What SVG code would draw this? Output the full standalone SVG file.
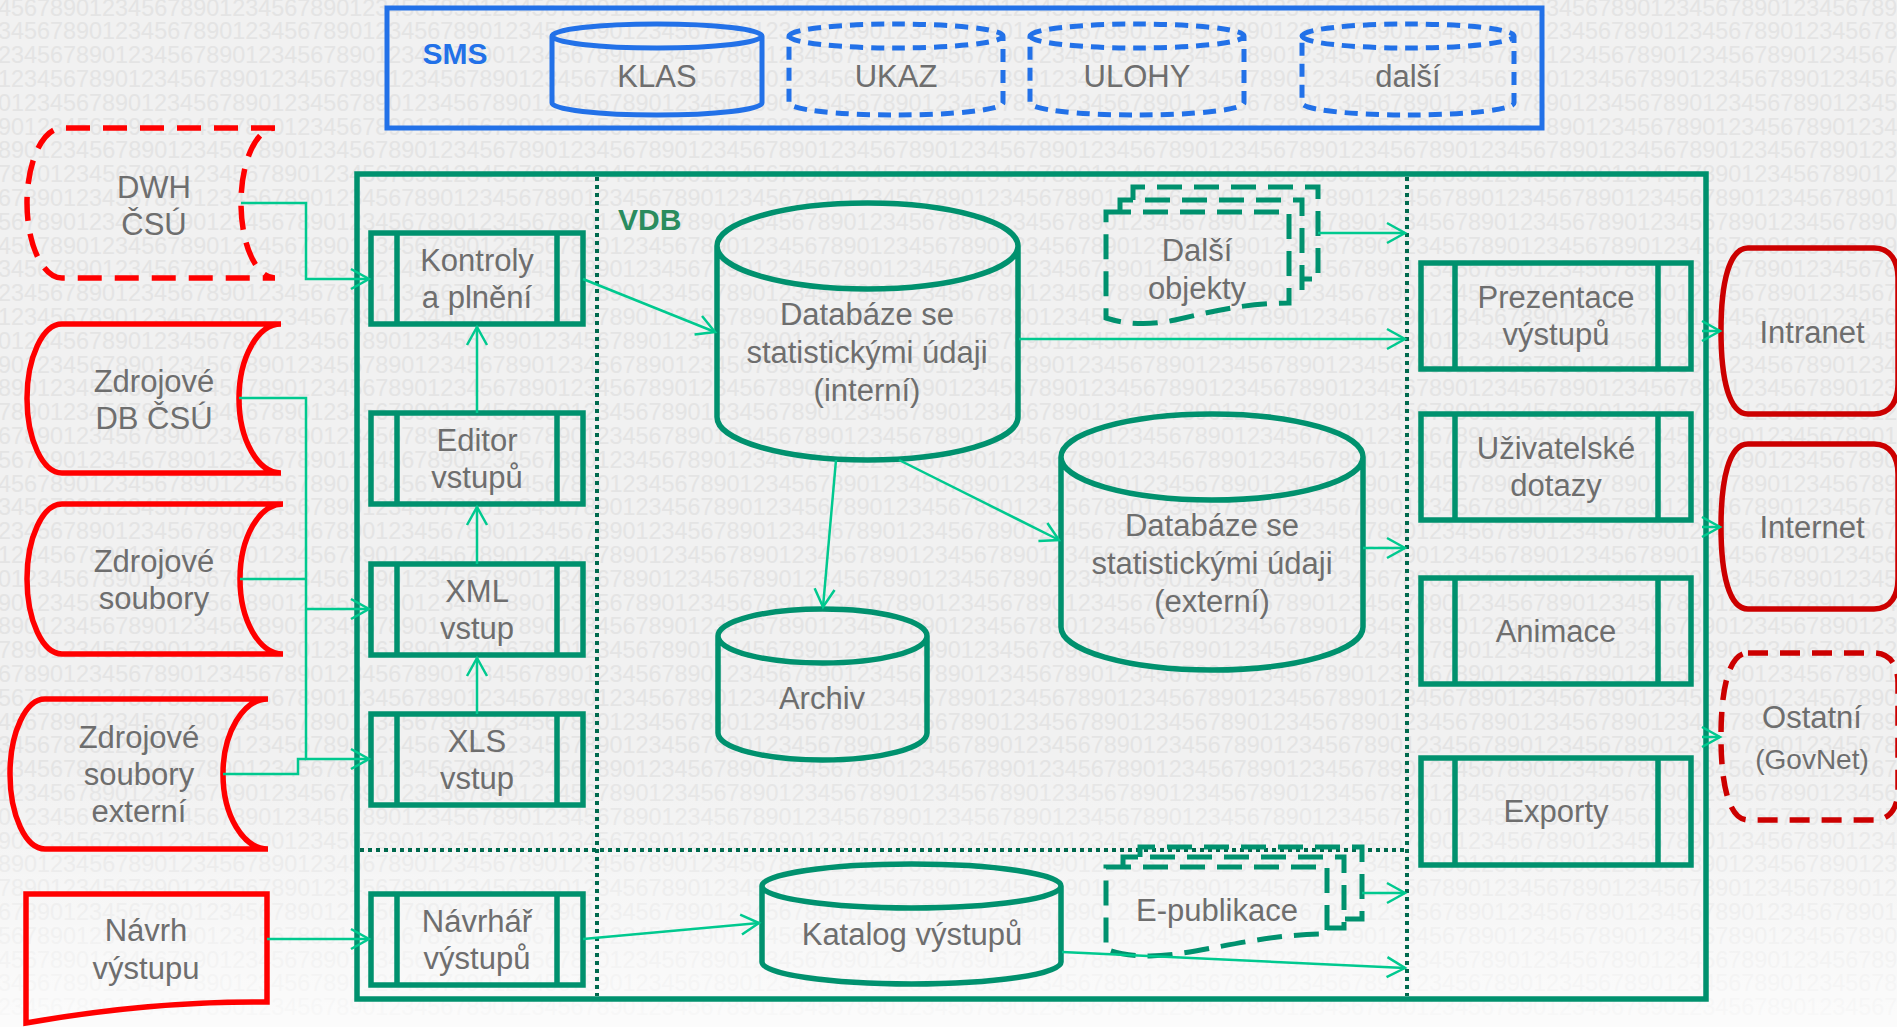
<svg xmlns="http://www.w3.org/2000/svg" xmlns:xlink="http://www.w3.org/1999/xlink" width="1897" height="1027" viewBox="0 0 1897 1027">
<defs>
<style>
.t{font-family:"Liberation Sans",Arial,sans-serif;font-size:31px;fill:#6e6e6e;text-anchor:middle}
.bg{font-family:"Liberation Sans",Arial,sans-serif;font-size:23.4px;fill:#e4e4e4}
.g{fill:none;stroke:#00916e;stroke-width:5.5}
.gd{fill:none;stroke:#00916e;stroke-width:5;stroke-dasharray:25 12}
.b{fill:none;stroke:#2271e8;stroke-width:5}
.bd{fill:none;stroke:#2271e8;stroke-width:5;stroke-dasharray:13 8}
.r{fill:none;stroke:#ff0000;stroke-width:5.5}
.rd{fill:none;stroke:#ff0000;stroke-width:5.5;stroke-dasharray:24 13}
.dr{fill:none;stroke:#cc0000;stroke-width:5.5}
.drd{fill:none;stroke:#cc0000;stroke-width:5.5;stroke-dasharray:20 12}
.dot{fill:none;stroke:#006a4e;stroke-width:4;stroke-dasharray:4 4}
.c{fill:none;stroke:#00c98f;stroke-width:2.5}
.ca{fill:none;stroke:#00c98f;stroke-width:2.5;marker-end:url(#ah)}
</style>
<marker id="ah" markerUnits="userSpaceOnUse" markerWidth="24" markerHeight="24" viewBox="0 0 24 24" refX="20" refY="12" orient="auto"><path d="M2,2 L20,12 L2,22" fill="none" stroke="#00c98f" stroke-width="2.5"/></marker>
<text id="dg" class="bg">0123456789012345678901234567890123456789012345678901234567890123456789012345678901234567890123456789012345678901234567890123456789012345678901234567890123456789</text>
<linearGradient id="fade" x1="0" y1="0" x2="0" y2="1"><stop offset="0" stop-color="#ffffff" stop-opacity="0"/><stop offset="1" stop-color="#ffffff" stop-opacity="0.75"/></linearGradient>
</defs>

<g id="background">
<rect x="0" y="0" width="1897" height="1027" fill="#f1f1f1"/>
<use href="#dg" x="-54" y="15.5"/><use href="#dg" x="-41" y="39.3"/><use href="#dg" x="-28" y="63.1"/><use href="#dg" x="-15" y="86.9"/><use href="#dg" x="-2" y="110.7"/>
<use href="#dg" x="-119" y="134.5"/><use href="#dg" x="-106" y="158.3"/><use href="#dg" x="-93" y="182.1"/><use href="#dg" x="-80" y="205.9"/><use href="#dg" x="-67" y="229.7"/>
<use href="#dg" x="-54" y="253.5"/><use href="#dg" x="-41" y="277.3"/><use href="#dg" x="-28" y="301.1"/><use href="#dg" x="-15" y="324.9"/><use href="#dg" x="-2" y="348.7"/>
<use href="#dg" x="-119" y="372.5"/><use href="#dg" x="-106" y="396.3"/><use href="#dg" x="-93" y="420.1"/><use href="#dg" x="-80" y="443.9"/><use href="#dg" x="-67" y="467.7"/>
<use href="#dg" x="-54" y="491.5"/><use href="#dg" x="-41" y="515.3"/><use href="#dg" x="-28" y="539.1"/><use href="#dg" x="-15" y="562.9"/><use href="#dg" x="-2" y="586.7"/>
<use href="#dg" x="-119" y="610.5"/><use href="#dg" x="-106" y="634.3"/><use href="#dg" x="-93" y="658.1"/><use href="#dg" x="-80" y="681.9"/><use href="#dg" x="-67" y="705.7"/>
<use href="#dg" x="-54" y="729.5"/><use href="#dg" x="-41" y="753.3"/><use href="#dg" x="-28" y="777.1"/><use href="#dg" x="-15" y="800.9"/><use href="#dg" x="-2" y="824.7"/>
<use href="#dg" x="-119" y="848.5"/><use href="#dg" x="-106" y="872.3"/><use href="#dg" x="-93" y="896.1"/><use href="#dg" x="-80" y="919.9"/><use href="#dg" x="-67" y="943.7"/>
<use href="#dg" x="-54" y="967.5"/><use href="#dg" x="-41" y="991.3"/><use href="#dg" x="-28" y="1015.1"/>
<rect x="0" y="760" width="1897" height="267" fill="url(#fade)"/>
</g>

<g id="sms">
<rect x="387" y="8" width="1155" height="120" class="b"/>
<text x="455" y="64" style="font-family:'Liberation Sans',Arial,sans-serif;font-size:30px;font-weight:bold;fill:#2271e8;text-anchor:middle">SMS</text>
</g>
<g id="klas">
<path class="b" d="M552,36 A105,12 0 0 1 762,36 V103 A105,12 0 0 1 552,103 Z M552,36 A105,12 0 0 0 762,36"/>
<text class="t" x="657" y="87">KLAS</text>
</g>
<g id="ukaz">
<path class="bd" d="M789,36 A107,12 0 0 1 1003,36 V103 A107,12 0 0 1 789,103 Z M789,36 A107,12 0 0 0 1003,36"/>
<text class="t" x="896" y="87">UKAZ</text>
</g>
<g id="ulohy">
<path class="bd" d="M1030,36 A107,12 0 0 1 1244,36 V103 A107,12 0 0 1 1030,103 Z M1030,36 A107,12 0 0 0 1244,36"/>
<text class="t" x="1137" y="87">ULOHY</text>
</g>
<g id="dalsi">
<path class="bd" d="M1302,36 A106,12 0 0 1 1514,36 V103 A106,12 0 0 1 1302,103 Z M1302,36 A106,12 0 0 0 1514,36"/>
<text class="t" x="1408" y="87">další</text>
</g>

<g id="vdb">
<rect x="357" y="174" width="1349" height="825" class="g"/>
<line x1="597" y1="177" x2="597" y2="996" class="dot"/>
<line x1="1407" y1="177" x2="1407" y2="996" class="dot"/>
<line x1="360" y1="850" x2="1407" y2="850" class="dot"/>
<text x="618" y="230" style="font-family:'Liberation Sans',Arial,sans-serif;font-size:30px;font-weight:bold;fill:#2a8c5e">VDB</text>
</g>

<g id="dwh">
<path class="rd" d="M275,128 H62 A35,75 0 0 0 62,278 H275 A34,75 0 0 1 275,128 Z"/>
<text class="t" x="154" y="198">DWH</text>
<text class="t" x="154" y="235">ČSÚ</text>
</g>
<g id="zdroj-db">
<path class="r" d="M281,324 H62 A35,74.5 0 0 0 62,473 H281 A42,74.5 0 0 1 281,324 Z"/>
<text class="t" x="154" y="392">Zdrojové</text>
<text class="t" x="154" y="429">DB ČSÚ</text>
</g>
<g id="zdroj-soubory">
<path class="r" d="M283,504 H62 A35,75 0 0 0 62,654 H283 A43,75 0 0 1 283,504 Z"/>
<text class="t" x="154" y="572">Zdrojové</text>
<text class="t" x="154" y="609">soubory</text>
</g>
<g id="zdroj-ext">
<path class="r" d="M268,699 H45 A35,75 0 0 0 45,849 H268 A45,75 0 0 1 268,699 Z"/>
<text class="t" x="139" y="748">Zdrojové</text>
<text class="t" x="139" y="785">soubory</text>
<text class="t" x="139" y="822">externí</text>
</g>
<g id="navrh">
<path class="r" d="M26,894 H267 V1002 C185,1001 105,1009 26,1023 Z"/>
<text class="t" x="146" y="941">Návrh</text>
<text class="t" x="146" y="979">výstupu</text>
</g>

<g id="kontroly">
<rect x="371" y="233" width="212" height="91" class="g"/><path class="g" d="M397,233 V324 M557,233 V324"/>
<text class="t" x="477" y="271">Kontroly</text>
<text class="t" x="477" y="308">a plnění</text>
</g>
<g id="editor">
<rect x="371" y="413" width="212" height="91" class="g"/><path class="g" d="M397,413 V504 M557,413 V504"/>
<text class="t" x="477" y="451">Editor</text>
<text class="t" x="477" y="488">vstupů</text>
</g>
<g id="xml">
<rect x="371" y="564" width="212" height="91" class="g"/><path class="g" d="M397,564 V655 M557,564 V655"/>
<text class="t" x="477" y="602">XML</text>
<text class="t" x="477" y="639">vstup</text>
</g>
<g id="xls">
<rect x="371" y="714" width="212" height="91" class="g"/><path class="g" d="M397,714 V805 M557,714 V805"/>
<text class="t" x="477" y="752">XLS</text>
<text class="t" x="477" y="789">vstup</text>
</g>
<g id="navrhar">
<rect x="371" y="894" width="212" height="91" class="g"/><path class="g" d="M397,894 V985 M557,894 V985"/>
<text class="t" x="477" y="932">Návrhář</text>
<text class="t" x="477" y="969">výstupů</text>
</g>

<g id="db-interni">
<path class="g" d="M717,246 A150.5,43 0 0 1 1018,246 V417 A150.5,43 0 0 1 717,417 Z M717,246 A150.5,43 0 0 0 1018,246"/>
<text class="t" x="867" y="325">Databáze se</text>
<text class="t" x="867" y="363">statistickými údaji</text>
<text class="t" x="867" y="401">(interní)</text>
</g>
<g id="db-externi">
<path class="g" d="M1061,457 A151,43 0 0 1 1363,457 V627 A151,43 0 0 1 1061,627 Z M1061,457 A151,43 0 0 0 1363,457"/>
<text class="t" x="1212" y="536">Databáze se</text>
<text class="t" x="1212" y="574">statistickými údaji</text>
<text class="t" x="1212" y="612">(externí)</text>
</g>
<g id="archiv">
<path class="g" d="M718,636 A104.5,27 0 0 1 927,636 V733 A104.5,27 0 0 1 718,733 Z M718,636 A104.5,27 0 0 0 927,636"/>
<text class="t" x="822" y="709">Archiv</text>
</g>
<g id="katalog">
<path class="g" d="M762,886 A149.5,22 0 0 1 1061,886 V962 A149.5,22 0 0 1 762,962 Z M762,886 A149.5,22 0 0 0 1061,886"/>
<text class="t" x="912" y="945">Katalog výstupů</text>
</g>
<g id="dalsi-objekty">
<path class="gd" d="M1133,200 V187 H1318 V279 H1302"/>
<path class="gd" d="M1120,212 V200 H1302 V291 H1289"/>
<path class="gd" d="M1106,212 H1289 V303 C1245,303 1210,312 1175,320 C1148,326 1125,324 1106,318 Z"/>
<text class="t" x="1197" y="261">Další</text>
<text class="t" x="1197" y="299">objekty</text>
</g>
<g id="e-publikace">
<path class="gd" d="M1140,857 V847 H1362 V919 H1344"/>
<path class="gd" d="M1123,867 V857 H1344 V928 H1327"/>
<path class="gd" d="M1106,867 H1327 V934 C1255,934 1200,955 1150,956 C1128,956 1115,953 1106,949 Z"/>
<text class="t" x="1217" y="921">E-publikace</text>
</g>

<g id="prezentace">
<rect x="1421" y="263" width="270" height="106" class="g"/><path class="g" d="M1455,263 V369 M1658,263 V369"/>
<text class="t" x="1556" y="308">Prezentace</text>
<text class="t" x="1556" y="345">výstupů</text>
</g>
<g id="dotazy">
<rect x="1421" y="414" width="270" height="106" class="g"/><path class="g" d="M1455,414 V520 M1658,414 V520"/>
<text class="t" x="1556" y="459">Uživatelské</text>
<text class="t" x="1556" y="496">dotazy</text>
</g>
<g id="animace">
<rect x="1421" y="578" width="270" height="106" class="g"/><path class="g" d="M1455,578 V684 M1658,578 V684"/>
<text class="t" x="1556" y="642">Animace</text>
</g>
<g id="exporty">
<rect x="1421" y="758" width="270" height="107" class="g"/><path class="g" d="M1455,758 V865 M1658,758 V865"/>
<text class="t" x="1556" y="822">Exporty</text>
</g>

<g id="intranet">
<path class="dr" d="M1748,248 H1874 C1891,248 1898,262 1898,278 V384 C1898,400 1891,414 1874,414 H1748 C1729,414 1721,379 1721,331 C1721,283 1729,248 1748,248 Z"/>
<text class="t" x="1812" y="343">Intranet</text>
</g>
<g id="internet">
<path class="dr" d="M1748,444 H1874 C1891,444 1898,458 1898,474 V579 C1898,595 1891,609 1874,609 H1748 C1729,609 1721,574 1721,527 C1721,479 1729,444 1748,444 Z"/>
<text class="t" x="1812" y="538">Internet</text>
</g>
<g id="ostatni">
<path class="drd" d="M1748,653 H1874 C1891,653 1898,667 1898,683 V790 C1898,806 1891,820 1874,820 H1748 C1729,820 1721,785 1721,737 C1721,688 1729,653 1748,653 Z"/>
<text class="t" x="1812" y="728">Ostatní</text>
<text class="t" x="1812" y="769" style="font-size:28px">(GovNet)</text>
</g>

<g id="connectors">
<path class="ca" d="M241,203 H306 V279 H369"/>
<path class="ca" d="M239,398 H306 V759 H369"/>
<path class="ca" d="M306,609 H369"/>
<path class="c" d="M240,579 H306"/>
<path class="c" d="M223,774 H298 V759 H306"/>
<path class="ca" d="M267,939 H369"/>
<path class="ca" d="M477,413 V327"/>
<path class="ca" d="M477,564 V507"/>
<path class="ca" d="M477,714 V658"/>
<path class="ca" d="M583,279 L715,332"/>
<path class="ca" d="M836,460 L823,607"/>
<path class="ca" d="M899,460 L1059,540"/>
<path class="ca" d="M1019,339 H1405"/>
<path class="ca" d="M1318,233 H1405"/>
<path class="ca" d="M1363,548 H1405"/>
<path class="ca" d="M1702,331 H1720"/>
<path class="ca" d="M1702,527 H1720"/>
<path class="ca" d="M1702,737 H1720"/>
<path class="ca" d="M583,939 L759,923"/>
<path class="ca" d="M1362,893 H1405"/>
<path class="ca" d="M1062,952 L1405,968"/>
</g>
</svg>
